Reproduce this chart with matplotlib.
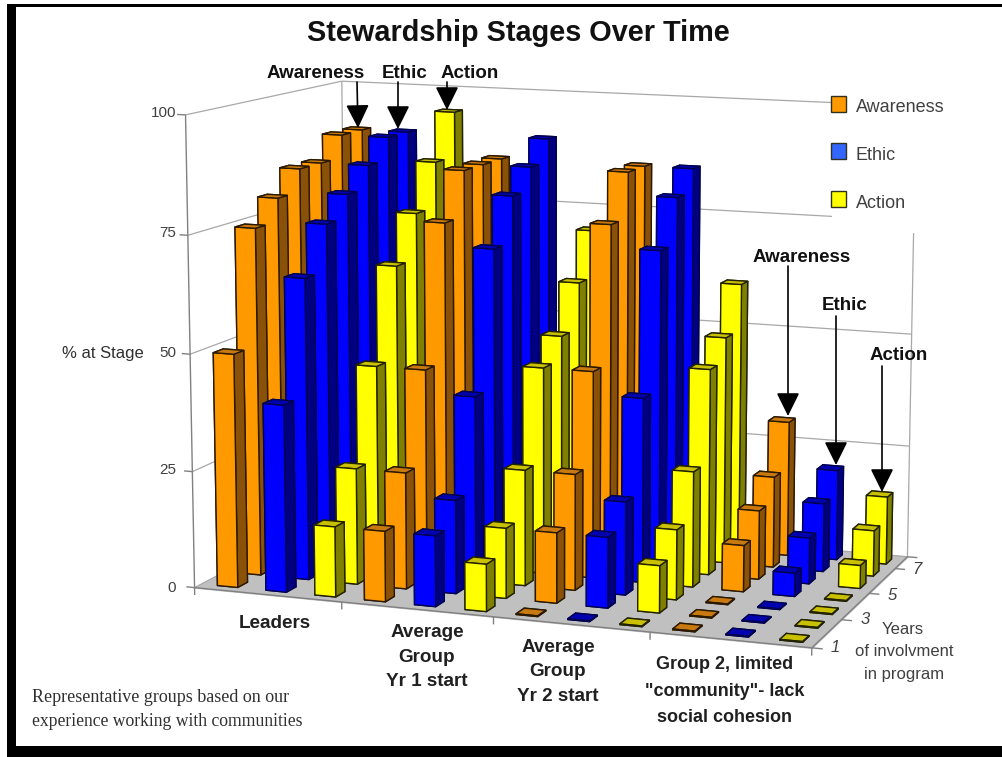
import numpy as np
import matplotlib
matplotlib.use("Agg")
import matplotlib.pyplot as plt
from matplotlib.patches import Rectangle
from matplotlib.text import Annotation
from mpl_toolkits.mplot3d.art3d import Poly3DCollection, Line3DCollection

W, H = 1003, 757
plt.rcParams['font.family'] = ['Liberation Sans', 'DejaVu Sans']

years = [1, 2, 3, 4, 5, 6, 7]
groups = ["Leaders", "Average\nGroup\nYr 1 start", "Average\nGroup\nYr 2 start",
          'Group 2, limited\n"community"- lack\nsocial cohesion']
stages = ["Awareness", "Ethic", "Action"]
leaders_awareness = [50, 75, 80, 85, 85, 90, 90]
leaders_ethic = [40, 65, 75, 80, 85, 90, 90]
leaders_action = [15, 25, 45, 65, 75, 85, 95]
yr1_awareness = [15, 25, 45, 75, 85, 85, 85]
yr1_ethic = [15, 20, 40, 70, 80, 85, 90]
yr1_action = [10, 15, 25, 45, 50, 60, 70]
yr2_awareness = [0, 15, 25, 45, 75, 85, 85]
yr2_ethic = [0, 15, 20, 40, 70, 80, 85]
yr2_action = [0, 10, 15, 25, 45, 50, 60]
g2_awareness = [0, 0, 0, 10, 15, 20, 30]
g2_ethic = [0, 0, 0, 5, 10, 15, 20]
g2_action = [0, 0, 0, 0, 5, 10, 15]
columns = [leaders_awareness, leaders_ethic, leaders_action,
           yr1_awareness, yr1_ethic, yr1_action,
           yr2_awareness, yr2_ethic, yr2_action,
           g2_awareness, g2_ethic, g2_action]
z_ticks = [0, 25, 50, 75, 100]

FRONT = {"Awareness": "#FF9900", "Ethic": "#0000FF", "Action": "#FFFF00"}
TOP = {"Awareness": "#C87A10", "Ethic": "#0000B0", "Action": "#C8C000"}
SIDE = {"Awareness": "#8A5208", "Ethic": "#000080", "Action": "#808000"}
EDGE = {"Awareness": "#2A1800", "Ethic": "#000050", "Action": "#222200"}

# camera calibration: world (col, row, %) <-> picture pixel
world = np.array([(0, 0, 0), (12, 0, 0), (12, 7, 0), (0, 7, 0), (0, 0, 100), (0, 7, 100),
                  (12, 7, 100), (3, 0, 0), (6, 0, 0), (9, 0, 0), (12, 7, 50), (12, 7, 25)], float)
image = np.array([(197, 588), (812, 647), (908, 557), (345, 507), (185, 113), (342, 82),
                  (916, 108), (342, 603), (493, 617), (648, 633), (912, 333), (910, 445)], float)
A = []
for (X, Y, Z), (u, v) in zip(world, image):
    A.append([X, Y, Z, 1, 0, 0, 0, 0, -u * X, -u * Y, -u * Z, -u])
    A.append([0, 0, 0, 0, X, Y, Z, 1, -v * X, -v * Y, -v * Z, -v])
P = np.linalg.svd(np.array(A, float))[2][-1].reshape(3, 4)
P = P / (P[2] @ np.array([6, 3.5, 50, 1]))  # w = 1 mid-scene, positive


fig = plt.figure(figsize=(W / 100, H / 100), dpi=100, facecolor='white')


def fx(x):
    return x / W


def fy(y):
    return 1 - y / H


fig.add_artist(Rectangle((fx(7), fy(757)), fx(996), 753 / H, transform=fig.transFigure,
                         fc='black', ec='none', zorder=-5))
fig.add_artist(Rectangle((fx(16), fy(746)), fx(987), 739 / H, transform=fig.transFigure,
                         fc='white', ec='none', zorder=-4))

ax = fig.add_axes([0, (H - W) / 2 / H, 1, W / H], projection='3d', computed_zorder=False)
ax.set_facecolor('none')
ax.set_axis_off()


def custom_proj():
    T = ax.transData.inverted().get_matrix()
    F = np.array([[1, 0, 0], [0, -1, H], [0, 0, 1]], float)  # picture px -> display
    Q = T @ F @ P
    return np.array([Q[0], Q[1], P[2] + np.array([0, 0, 0, -0.5]), Q[2]])


ax.get_proj = custom_proj

# floor and frame
ax.add_collection3d(Poly3DCollection([[(0, 0, 0), (12, 0, 0), (12, 7, 0), (0, 7, 0)]],
                                     facecolors='#C0C0C0', edgecolors='#C0C0C0', zorder=1),
                    autolim=False)


def lines(segs, color, lw):
    ax.add_collection3d(Line3DCollection(np.array(segs, float), colors=color, linewidths=lw,
                                         zorder=2), autolim=False)


grid = []
for z in z_ticks:
    grid.append([(0, 0, z), (0, 7, z)])
    grid.append([(0, 7, z), (12, 7, z)])
grid.append([(0, 7, 0), (0, 7, 100)])
grid.append([(12, 7, 0), (12, 7, 100)])
lines(grid, '#A8A8A8', 0.9)
frame = [[(0, 0, 0), (0, 0, 100)], [(0, 0, 0), (12, 0, 0)], [(12, 0, 0), (12, 7, 0)]]
for z in z_ticks:
    frame.append([(0, 0, z), (-0.17, 0, z)])
for c in [0, 3, 6, 9, 12]:
    frame.append([(c, 0, 0), (c, 0, -1.6)])
for r in [0, 2, 4, 6, 7]:
    frame.append([(12, r, 0), (12.2, r, 0)])
lines(frame, '#808080', 1.0)

# bars, back row first
bar_w, bar_d = 0.42, 0.42
for r in reversed(range(len(years))):
    for c, col in enumerate(columns):
        stage = stages[c % 3]
        v = col[r]
        x0 = c + 0.33
        y0 = r + 0.29
        if v == 0:
            faces = [TOP[stage]] * 6
        else:
            faces = [SIDE[stage], TOP[stage], FRONT[stage], SIDE[stage], SIDE[stage], SIDE[stage]]
        ax.bar3d([x0], [y0], [0], [bar_w], [bar_d], [max(v, 0.15)], color=faces, shade=False,
                 edgecolor=EDGE[stage], linewidth=1.0, zorder=10 + (7 - r) * 20 + c)
ax.set_xlim(0, 12)
ax.set_ylim(0, 7)
ax.set_zlim(0, 100)


def ptext(x, y, s, size=12, weight='normal', ha='center', va='center', color='#303030', **kw):
    fig.text(fx(x), fy(y), s, fontsize=size, fontweight=weight, ha=ha, va=va, color=color,
             zorder=8, **kw)


# legend area hides the grid behind it
fig.add_artist(Rectangle((fx(832), fy(233)), 118 / W, 148 / H, transform=fig.transFigure,
                         fc='white', ec='none', zorder=5))
for stage, ly, sw in zip(stages, [105, 152, 200], ['#FF9900', '#3366FF', '#FFFF00']):
    fig.add_artist(Rectangle((fx(831), fy(ly + 7)), 15 / W, 16 / H, transform=fig.transFigure,
                             fc=sw, ec='#303020', lw=1.0, zorder=6))
    ptext(856, ly + 3, stage, size=13, ha='left', color='#404040')

ptext(518, 33, "Stewardship Stages Over Time", size=20.8, weight='bold', color='#111111')
ptext(103, 354, "% at Stage", size=12, color='#303030')
for z, y in zip(z_ticks, [588, 470, 353, 233, 113]):
    ptext(176, y, str(z), size=11, ha='right', color='#404040')
label_pos = [(275, 623, 13.6, 1.5), (427, 657, 13.6, 1.55), (558, 672, 13.6, 1.55), (725, 691, 13, 1.7)]
for g, (x, y, fs, ls) in zip(groups, label_pos):
    ptext(x, y, g, size=fs, weight='bold', color='#202020', linespacing=ls)
for yr, (x, y) in zip([1, 3, 5, 7], [(835, 648), (865, 620), (892, 595), (917, 570)]):
    ptext(x, y, str(yr), size=12, style='italic', color='#404040')
ptext(903, 629, "Years", size=12, color='#404040')
ptext(904, 652, "of involvment", size=12, color='#404040')
ptext(904, 674, "in program", size=12, color='#404040')
ptext(32, 697, "Representative groups based on our", size=13, ha='left', family='Liberation Serif',
      color='#303030')
ptext(32, 721, "experience working with communities", size=12.7, ha='left', family='Liberation Serif',
      color='#303030')

# call-outs
callouts = [("Awareness", 316, 73, 357, 82, 358, 128), ("Ethic", 405, 73, 398, 82, 398, 129),
            ("Action", 470, 73, 447, 82, 447, 110), ("Awareness", 802, 258, 788, 266, 788, 416),
            ("Ethic", 845, 306, 836, 316, 836, 465), ("Action", 899, 356, 882, 366, 882, 492)]
for s, tx, ty, x0, y0, x1, y1 in callouts:
    ptext(tx, ty, s, size=13.5, weight='bold', color='#111111')
    fig.add_artist(Annotation("", xy=(x1, H - y1), xytext=(x0, H - y0), xycoords='figure pixels',
                              textcoords='figure pixels', annotation_clip=False, zorder=7,
                              arrowprops=dict(arrowstyle='-|>,head_length=0.85,head_width=0.42',
                                              color='black', lw=1.2, shrinkA=0, shrinkB=0,
                                              mutation_scale=17)))

fig.savefig("out.png", dpi=100)
